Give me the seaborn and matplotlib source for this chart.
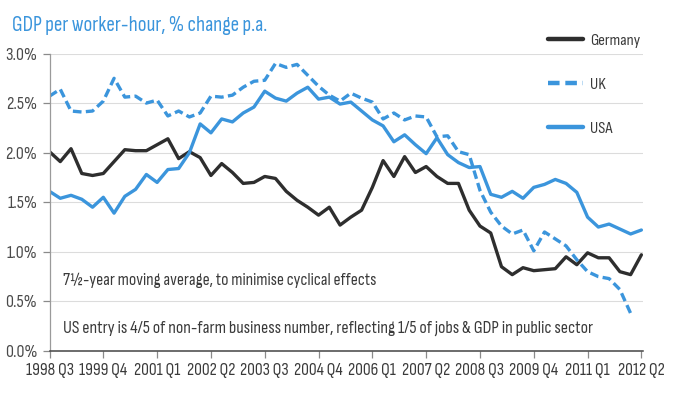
import numpy as np
import pandas as pd
import matplotlib
matplotlib.use("Agg")
import matplotlib.pyplot as plt
import seaborn as sns
from matplotlib import font_manager

# ---- data (quarterly, 1998 Q3 .. 2012 Q2) ----
germany = [2.01, 1.91, 2.04, 1.79, 1.77, 1.79, 1.91, 2.03, 2.02, 2.02,
           2.08, 2.14, 1.94, 2.01, 1.95, 1.77, 1.89, 1.80, 1.69, 1.70,
           1.76, 1.74, 1.61, 1.52, 1.45, 1.37, 1.45, 1.27, 1.35, 1.42,
           1.65, 1.92, 1.76, 1.96, 1.80, 1.86, 1.76, 1.69, 1.69, 1.42,
           1.26, 1.19, 0.85, 0.77, 0.84, 0.81, 0.82, 0.83, 0.95, 0.87,
           0.99, 0.94, 0.94, 0.80, 0.77, 0.97]
uk = [2.57, 2.64, 2.42, 2.41, 2.42, 2.52, 2.75, 2.56, 2.57, 2.50,
      2.53, 2.37, 2.42, 2.36, 2.40, 2.57, 2.56, 2.58, 2.66, 2.72,
      2.73, 2.90, 2.86, 2.89, 2.78, 2.67, 2.58, 2.52, 2.60, 2.55,
      2.51, 2.34, 2.40, 2.33, 2.37, 2.36, 2.16, 2.17, 2.01, 1.98,
      1.62, 1.40, 1.26, 1.18, 1.22, 1.01, 1.20, 1.13, 1.06, 0.92,
      0.80, 0.75, 0.73, 0.62, 0.38]
usa = [1.61, 1.54, 1.57, 1.53, 1.45, 1.55, 1.39, 1.56, 1.63, 1.78,
       1.70, 1.83, 1.84, 2.00, 2.29, 2.20, 2.34, 2.31, 2.40, 2.46,
       2.62, 2.55, 2.52, 2.60, 2.66, 2.54, 2.56, 2.49, 2.51, 2.42,
       2.33, 2.27, 2.11, 2.18, 2.08, 1.99, 2.15, 1.98, 1.90, 1.85,
       1.86, 1.58, 1.55, 1.61, 1.54, 1.65, 1.68, 1.73, 1.69, 1.60,
       1.35, 1.25, 1.28, 1.23, 1.18, 1.22]
tick_labels = ["1998 Q3", "1999 Q4", "2001 Q1", "2002 Q2", "2003 Q3", "2004 Q4",
               "2006 Q1", "2007 Q2", "2008 Q3", "2009 Q4", "2011 Q1", "2012 Q2"]
y_ticks = [0.0, 0.5, 1.0, 1.5, 2.0, 2.5, 3.0]
series_names = ["Germany", "UK", "USA"]

rows = []
for name, vals in zip(series_names, [germany, uk, usa]):
    for i, v in enumerate(vals):
        rows.append({"q": i, "value": v, "country": name})
df = pd.DataFrame(rows)

# ---- style ----
sns.set_theme(style="white")
avail = {f.name for f in font_manager.fontManager.ttflist}
narrow = next((n for n in ["Sofia Sans Condensed", "Liberation Sans Narrow", "Arial Narrow",
                           "Archivo Narrow", "Roboto Condensed", "Liberation Sans"] if n in avail),
              "DejaVu Sans")
plt.rcParams["font.family"] = [narrow, "DejaVu Sans"]

BLUE = "#3b95dc"
DARK = "#2e2e2e"
TXT = "#3a3a3a"
GRID = "#dcdcdc"
H = 394.0

fig = plt.figure(figsize=(6.78, 3.94), dpi=100)
fig.patch.set_facecolor("white")
ax = fig.add_axes([49.5 / 678, 1 - 351 / H, (643 - 49.5) / 678, (351 - 53.5) / H])
rend = fig.canvas.get_renderer()


def size_for(text, target_px, base=12.0):
    t = fig.text(0, 0, text, fontsize=base)
    w = t.get_window_extent(rend).width
    t.remove()
    return base * target_px / w


sns.lineplot(data=df, x="q", y="value", hue="country", style="country",
             palette={"Germany": DARK, "UK": BLUE, "USA": BLUE},
             dashes={"Germany": "", "UK": (2.6, 1.3), "USA": ""},
             linewidth=2.4, ax=ax)

ax.set_xlim(0, 55.15)
ax.set_ylim(0, 3.0)
ax.set_xticks(list(range(0, 56, 5)))
ax.set_xticklabels(tick_labels)
ax.set_yticks(y_ticks)
ax.set_yticklabels([f"{t:.1f}%" for t in y_ticks])
ax.set_xlabel("")
ax.set_ylabel("")

ax.grid(axis="y", color=GRID, linewidth=0.8)
ax.grid(axis="x", visible=False)
ax.set_axisbelow(True)
for s in ["top", "right"]:
    ax.spines[s].set_visible(False)
ax.spines["left"].set_color("#9a9a9a")
ax.spines["left"].set_linewidth(0.9)
ax.spines["bottom"].set_color("#444444")
ax.spines["bottom"].set_linewidth(1.1)

xs = size_for("1998 Q3", 48)
ys = size_for("3.0%", 32)
ax.tick_params(axis="y", which="both", left=True, length=5, width=0.9,
               color="#8a8a8a", labelsize=ys, labelcolor="#4a4a4a", pad=4)
ax.tick_params(axis="x", which="both", bottom=True, length=5, width=0.9,
               color="#8a8a8a", labelsize=xs, labelcolor="#3a3a3a", pad=4)

# legend: size from reference width of "Germany", then tune row pitch (~44 px)
ls = size_for("Germany", 50)
spacing = 1.9
top = 33.0
for _ in range(4):
    sns.move_legend(ax, "upper left", bbox_to_anchor=(548 / 678, 1 - top / H),
                    bbox_transform=fig.transFigure, title=None, frameon=False,
                    fontsize=ls, handlelength=35 / (ls * 100 / 72), handletextpad=0.4,
                    labelspacing=spacing, borderpad=0, borderaxespad=0)
    leg = ax.get_legend()
    fig.canvas.draw()
    ts = leg.get_texts()
    e0 = ts[0].get_window_extent(rend)
    e2 = ts[2].get_window_extent(rend)
    c0 = H - (e0.y0 + e0.height / 2)
    c2 = H - (e2.y0 + e2.height / 2)
    pitch = (c2 - c0) / 2
    spacing += (44 - pitch) / (ls * 100 / 72)
    top += 41 - c0
leg = ax.get_legend()
for h in leg.legend_handles:
    h.set_linewidth(3.2)
for t in leg.get_texts():
    t.set_color(TXT)

# title and notes
fig.text(12 / 678, 1 - 31 / H, "GDP per worker-hour, % change p.a.",
         color=BLUE, fontsize=size_for("GDP per worker-hour, % change p.a.", 254),
         ha="left", va="baseline")
n1 = "7½-year moving average, to minimise cyclical effects"
n2 = "US entry is 4/5 of non-farm business number, reflecting 1/5 of jobs & GDP in public sector"
fig.text(63 / 678, 1 - 280 / H, n1, color=TXT, fontsize=size_for(n1, 312),
         ha="left", va="center")
fig.text(63 / 678, 1 - 328 / H, n2, color=TXT, fontsize=size_for(n2, 528),
         ha="left", va="center")

fig.savefig("out.png", dpi=100, facecolor="white")
